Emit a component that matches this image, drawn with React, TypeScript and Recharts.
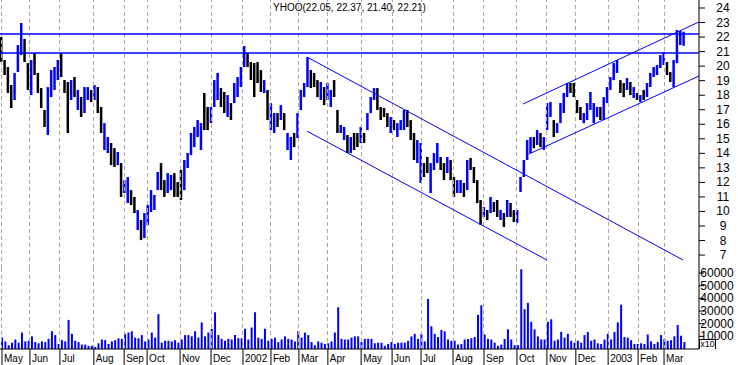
import React from 'react';
import { ComposedChart, Bar, Cell, XAxis, YAxis, ReferenceLine } from 'recharts';

// one bar per slot (about 2.3 trading days), May 2001 .. Mar 2003
const highs = [
  22.0, 20.42, 19.94, 18.7, 19.53, 21.45, 22.97, 21.87, 20.21, 20.42,
  20.9, 19.53, 18.49, 16.98, 18.56, 19.73, 19.94, 20.42, 20.9, 19.04,
  18.91, 19.04, 19.25, 18.36, 17.87, 18.56, 18.56, 18.36, 18.7, 18.56,
  17.19, 16.08, 15.12, 14.71, 14.36, 14.09, 13.33, 12.16, 12.37, 11.47,
  11.0, 10.1, 9.41, 9.89, 10.44, 11.47, 11.13, 12.71, 13.33, 12.16,
  12.64, 12.51, 12.64, 12.02, 12.85, 13.54, 14.02, 15.4, 15.81, 16.29,
  16.08, 18.15, 17.19, 17.19, 19.04, 19.53, 18.49, 18.22, 18.01, 17.46,
  18.84, 19.25, 19.94, 21.38, 20.9, 20.28, 20.21, 20.28, 19.73, 19.04,
  18.36, 17.46, 16.77, 16.77, 17.32, 16.77, 15.4, 15.12, 15.4, 16.77,
  18.36, 18.84, 20.63, 19.73, 19.53, 19.04, 18.91, 18.56, 18.84, 18.36,
  19.04, 16.98, 15.95, 15.81, 15.26, 15.12, 15.4, 15.4, 15.81, 15.4,
  16.77, 17.87, 18.49, 18.49, 17.19, 17.12, 16.77, 16.5, 16.29, 16.08,
  16.29, 16.98, 16.98, 16.29, 15.4, 14.92, 14.71, 13.33, 13.75, 13.33,
  14.02, 14.71, 13.75, 13.33, 13.75, 13.54, 12.37, 12.16, 12.16, 11.96,
  13.54, 13.68, 13.06, 12.16, 10.79, 10.3, 10.1, 11.0, 10.65, 10.79,
  10.1, 9.89, 10.79, 10.58, 10.1, 10.1, 12.37, 13.54, 14.92, 15.12,
  15.12, 15.6, 15.4, 15.12, 17.46, 17.53, 16.29, 16.08, 17.46, 18.15,
  18.84, 18.84, 18.84, 17.67, 17.19, 16.77, 17.46, 18.22, 17.46, 17.19,
  17.19, 17.87, 18.56, 19.25, 20.21, 20.42, 19.04, 18.84, 19.18, 18.91,
  18.56, 18.15, 18.01, 18.36, 18.84, 19.53, 19.94, 20.08, 20.76, 20.97,
  20.28, 19.59, 20.42, 22.49, 22.42, 22.37,
];

const lows = [
  20.28, 19.39, 18.15, 17.12, 17.67, 19.59, 20.76, 20.28, 18.36, 18.01,
  19.39, 18.15, 17.12, 15.81, 15.26, 17.87, 18.36, 19.04, 19.25, 18.15,
  15.4, 17.67, 17.87, 16.98, 16.5, 16.77, 17.67, 17.53, 17.67, 16.77,
  15.4, 14.23, 14.02, 13.19, 13.06, 13.19, 11.0, 11.27, 10.58, 10.44,
  9.89, 8.72, 8.03, 8.17, 9.07, 9.96, 10.1, 11.47, 11.47, 11.0,
  11.27, 11.47, 11.0, 11.0, 10.79, 11.47, 12.99, 13.88, 14.43, 15.12,
  14.23, 15.6, 15.6, 16.08, 17.19, 17.67, 17.19, 16.77, 16.5, 16.29,
  17.46, 17.87, 18.56, 19.94, 19.94, 19.04, 17.87, 18.84, 18.22, 18.15,
  16.29, 15.6, 15.4, 15.81, 16.29, 15.6, 14.23, 13.54, 14.43, 15.05,
  16.98, 17.87, 18.56, 18.49, 18.56, 17.87, 17.67, 17.32, 17.67, 17.19,
  17.87, 15.4, 15.4, 14.92, 14.02, 14.02, 14.23, 14.43, 14.71, 14.71,
  15.6, 16.77, 17.67, 16.98, 16.29, 16.5, 15.81, 15.4, 15.6, 15.12,
  15.6, 15.6, 15.81, 14.92, 13.54, 13.33, 11.96, 12.37, 12.64, 11.27,
  12.85, 13.33, 12.85, 12.16, 12.64, 12.16, 11.0, 11.27, 11.27, 11.0,
  11.47, 12.85, 11.96, 10.58, 9.07, 9.62, 9.41, 9.89, 9.96, 9.62,
  9.41, 8.93, 9.62, 9.62, 9.27, 9.2, 11.34, 12.37, 13.54, 14.02,
  14.36, 14.57, 14.43, 14.23, 15.6, 16.5, 15.12, 15.4, 16.08, 16.77,
  17.87, 18.15, 17.87, 16.77, 16.29, 16.08, 16.29, 16.98, 16.08, 16.5,
  16.29, 16.29, 17.46, 18.36, 19.04, 19.53, 18.15, 17.87, 18.36, 18.01,
  17.81, 17.67, 17.53, 17.67, 17.87, 18.56, 19.25, 19.39, 19.87, 20.08,
  19.39, 18.91, 18.56, 20.21, 21.45, 21.4,
];

// 1 = closed higher (blue bar), 0 = closed lower (black bar)
const upDays = [
  0, 0, 0, 0, 1, 1, 1, 0, 0, 1,
  0, 0, 0, 0, 1, 1, 1, 1, 0, 0,
  0, 1, 0, 1, 0, 1, 1, 0, 1, 0,
  0, 1, 1, 0, 0, 1, 0, 1, 1, 0,
  0, 1, 0, 1, 1, 1, 1, 1, 0, 0,
  1, 1, 0, 0, 0, 1, 1, 1, 1, 1,
  1, 0, 0, 1, 1, 1, 0, 0, 1, 0,
  1, 1, 1, 1, 0, 0, 0, 0, 0, 1,
  0, 1, 1, 0, 1, 0, 1, 1, 0, 1,
  1, 1, 1, 0, 0, 0, 1, 0, 1, 1,
  0, 0, 1, 1, 0, 1, 0, 0, 1, 0,
  1, 1, 1, 0, 0, 0, 0, 1, 0, 1,
  1, 1, 0, 0, 0, 1, 1, 0, 0, 1,
  1, 1, 0, 0, 1, 0, 0, 1, 1, 0,
  1, 0, 0, 0, 0, 1, 0, 1, 0, 0,
  1, 0, 1, 0, 0, 1, 1, 1, 1, 1,
  0, 1, 0, 1, 1, 1, 0, 1, 1, 1,
  1, 0, 0, 0, 0, 1, 1, 1, 1, 1,
  0, 1, 1, 1, 1, 1, 0, 0, 1, 0,
  1, 0, 1, 0, 1, 1, 1, 1, 1, 1,
  0, 0, 1, 1, 1, 1,
];

const volumes = [
  9000, 6000, 3000, 5000, 7500, 5000, 13000, 6000, 6500, 10000,
  5500, 4500, 6000, 5500, 8000, 14000, 11000, 4000, 7000, 6000,
  23000, 12000, 6500, 5500, 3500, 3500, 2500, 2500, 1500, 4500,
  7500, 7000, 4000, 6000, 7000, 8500, 8000, 12000, 13000, 14000,
  9000, 8500, 11000, 6000, 7500, 13000, 9000, 27500, 5000, 6500,
  6500, 6000, 7000, 5000, 7500, 11000, 11000, 10000, 14000, 9000,
  21000, 10000, 13000, 16000, 29000, 11000, 8000, 6500, 8000, 7500,
  11000, 8500, 8500, 16000, 7500, 17000, 29000, 9000, 8000, 16000,
  6500, 8000, 9000, 5500, 7500, 10000, 8000, 7500, 6000, 14000,
  9000, 13000, 11000, 5500, 3000, 6000, 5000, 4000, 4500, 6000,
  13000, 33000, 8000, 7500, 7500, 9000, 10000, 10000, 5500, 8000,
  8000, 8000, 4500, 5000, 5000, 2500, 4000, 5500, 4000, 5000,
  5000, 5000, 6500, 10000, 12000, 8000, 12000, 6000, 39500, 18000,
  12000, 9500, 15000, 14000, 7500, 6500, 6500, 3500, 4000, 7500,
  8000, 8500, 9500, 27000, 34500, 11500, 8000, 7500, 5000, 2500,
  3500, 8000, 15500, 7500, 3000, 3000, 63000, 31500, 36500, 21500,
  15500, 10000, 7500, 7500, 21500, 23500, 6500, 7500, 13500, 9000,
  12000, 6500, 5000, 6500, 5000, 11000, 13500, 6500, 7500, 4500,
  4000, 7500, 12000, 7500, 13500, 21000, 35000, 9500, 9000, 7000,
  4000, 4000, 4500, 4000, 11500, 6000, 4000, 5500, 11000, 8000,
  6500, 7000, 10000, 19000, 10500, 5500,
];

// first session of each month, in slot units
const monthTicks = [
  0.6, 9.0, 18.0, 28.2, 37.3, 44.2, 54.1, 63.4, 73.0, 81.4, 89.8, 98.5,
  108.5, 117.8, 126.5, 136.1, 145.4, 155.3, 164.3, 173.0, 182.7, 191.7, 199.5,
];
const monthLabels = [
  'May', 'Jun', 'Jul', 'Aug', 'Sep', 'Oct', 'Nov', 'Dec', '2002', 'Feb', 'Mar', 'Apr',
  'May', 'Jun', 'Jul', 'Aug', 'Sep', 'Oct', 'Nov', 'Dec', '2003', 'Feb', 'Mar',
];

const priceTicks = [7, 8, 9, 10, 11, 12, 13, 14, 15, 16, 17, 18, 19, 20, 21, 22, 23, 24];
const volumeTicks = [10000, 20000, 30000, 40000, 50000, 60000];

// horizontal resistance levels and drawn trend channels (slot, price)
const levels = [22.21, 20.9];
const trendLines = [
  { x1: 92.2, y1: 20.63, x2: 205.2, y2: 6.66 },
  { x1: 92.2, y1: 15.53, x2: 164.3, y2: 6.66 },
  { x1: 157.1, y1: 17.39, x2: 210, y2: 23.04 },
  { x1: 158.9, y1: 13.95, x2: 210, y2: 19.32 },
];

const data = highs.map((h, i) => ({
  slot: i + 0.5,
  range: [lows[i], h],
  up: upDays[i],
  volume: volumes[i],
}));

const FONT = '"Liberation Sans", Arial, sans-serif';
const BLUE = '#0000ff';
const GRID = '#a8a8a8';

const PriceTick = (props: any) => {
  const { y, payload } = props;
  return (
    <text x={723} y={y + 4} textAnchor="middle" fontSize={12} fontFamily={FONT} fill="#000">
      {payload.value}
    </text>
  );
};

const VolumeTick = (props: any) => {
  const { y, payload } = props;
  return (
    <text x={717} y={y + 4} textAnchor="middle" fontSize={12} fontFamily={FONT} fill="#000">
      {payload.value}
    </text>
  );
};

const MonthTick = (props: any) => {
  const { x, y, payload } = props;
  const label = monthLabels[monthTicks.indexOf(payload.value)];
  return (
    <g>
      <line x1={x} y1={y} x2={x} y2={y + 16} stroke="#000" />
      <text x={x + 2} y={y + 13} fontSize={10} fontFamily={FONT} fill="#000">
        {label}
      </text>
    </g>
  );
};

// dashed month separators, drawn through both panels
const monthGrid = (prefix: string) =>
  monthTicks.map((t) => (
    <ReferenceLine
      key={prefix + t}
      x={t}
      stroke={GRID}
      strokeWidth={1}
      strokeDasharray="4 3"
      ifOverflow="visible"
      shapeRendering="crispEdges"
    />
  ));

const App: React.FC = () => {
  return (
    <div style={{ position: 'absolute', left: 0, top: 0, width: 738, height: 365, background: '#fff' }}>
      <div style={{ position: 'absolute', left: 0, top: 0 }}>
        <ComposedChart width={738} height={268} data={data} margin={{ top: 0, right: 0, bottom: 0, left: 0 }}>
          <XAxis type="number" dataKey="slot" domain={[0, 210]} ticks={monthTicks} interval={0} hide />
          <YAxis
            orientation="right"
            width={39}
            domain={[6.11, 24.55]}
            ticks={priceTicks}
            interval={0}
            allowDataOverflow
            axisLine={{ stroke: '#000' }}
            tickLine={{ stroke: '#000' }}
            tickSize={6}
            tick={<PriceTick />}
          />
          {monthGrid('p')}
          {levels.map((v) => (
            <ReferenceLine key={'l' + v} y={v} stroke={BLUE} strokeWidth={1.5} />
          ))}
          {trendLines.map((l, i) => (
            <ReferenceLine
              key={'t' + i}
              segment={[{ x: l.x1, y: l.y1 }, { x: l.x2, y: l.y2 }]}
              stroke={BLUE}
              strokeWidth={1}
            />
          ))}
          <Bar dataKey="range" barSize={2.5} isAnimationActive={false}>
            {data.map((d, i) => (
              <Cell key={i} fill={d.up ? BLUE : '#000'} />
            ))}
          </Bar>
        </ComposedChart>
      </div>
      <div style={{ position: 'absolute', left: 0, top: 258 }}>
        <ComposedChart width={738} height={107} data={data} margin={{ top: 10, right: 0, bottom: 0, left: 0 }}>
          <XAxis
            type="number"
            dataKey="slot"
            domain={[0, 210]}
            ticks={monthTicks}
            interval={0}
            height={16}
            axisLine={{ stroke: '#000' }}
            tickLine={false}
            tickSize={0}
            tickMargin={0}
            tick={<MonthTick />}
          />
          <YAxis
            orientation="right"
            width={39}
            domain={[0, 64000]}
            ticks={volumeTicks}
            interval={0}
            allowDataOverflow
            axisLine={{ stroke: '#000' }}
            tickLine={{ stroke: '#000' }}
            tickSize={5}
            tick={<VolumeTick />}
          />
          {monthGrid('v')}
          <Bar dataKey="volume" fill={BLUE} barSize={2} isAnimationActive={false} />
        </ComposedChart>
      </div>
      <div
        style={{
          position: 'absolute',
          left: 0,
          top: 2,
          width: 699,
          textAlign: 'center',
          fontFamily: FONT,
          fontSize: 10,
          lineHeight: '12px',
        }}
      >
        YHOO(22.05, 22.37, 21.40, 22.21)
      </div>
      <div
        style={{
          position: 'absolute',
          left: 699,
          top: 339,
          width: 15,
          height: 9,
          borderLeft: '1px solid #000',
          borderTop: '1px solid #000',
          borderRight: '1px solid #000',
          background: '#fff',
          fontFamily: FONT,
          fontSize: 9,
          lineHeight: '9px',
          textAlign: 'center',
        }}
      >
        x10
      </div>
    </div>
  );
};

export default App;
